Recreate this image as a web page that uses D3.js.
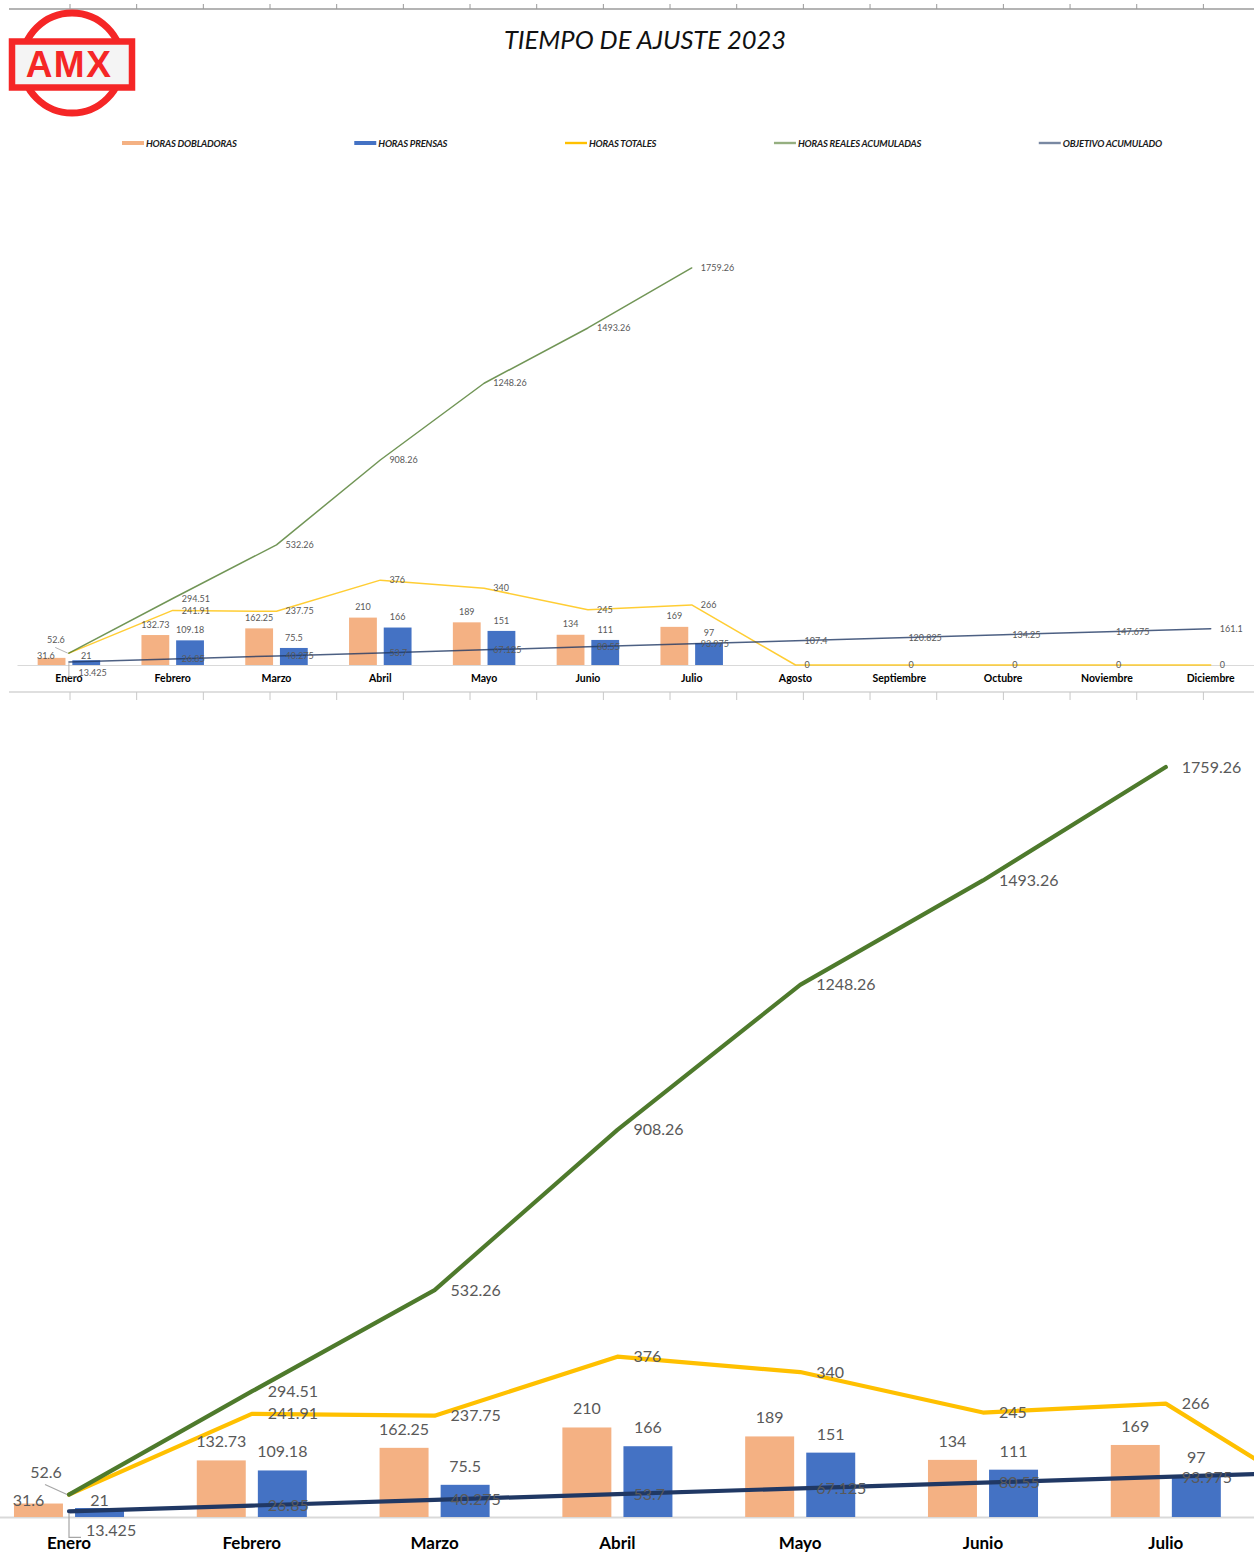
<!DOCTYPE html>
<html>
<head>
<meta charset="utf-8">
<script src="https://cdn.jsdelivr.net/npm/d3@7"></script>
<style>
  body { margin: 0; background: #fff; }
  svg { display: block; font-family: Lato, "Open Sans", sans-serif; }
</style>
</head>
<body>
<svg id="chart" width="1254" height="1562"></svg>
<script>
// data
var months = ['Enero', 'Febrero', 'Marzo', 'Abril', 'Mayo', 'Junio', 'Julio',
              'Agosto', 'Septiembre', 'Octubre', 'Noviembre', 'Diciembre'];
var horasDobladoras = [31.6, 132.73, 162.25, 210, 189, 134, 169];
var horasPrensas = [21, 109.18, 75.5, 166, 151, 111, 97];
var horasTotales = [52.6, 241.91, 237.75, 376, 340, 245, 266, 0, 0, 0, 0, 0];
var horasRealesAcumuladas = [52.6, 294.51, 532.26, 908.26, 1248.26, 1493.26, 1759.26];
var objetivoAcumulado = [13.425, 26.85, 40.275, 53.7, 67.125, 80.55, 93.975,
                         107.4, 120.825, 134.25, 147.675, 161.1];
var seriesNames = ['HORAS DOBLADORAS', 'HORAS PRENSAS', 'HORAS TOTALES',
                   'HORAS REALES ACUMULADAS', 'OBJETIVO ACUMULADO'];

var colors = ['#F4B183', '#4472C4', '#FFC000', '#4E7A2C', '#203864'];
var labelGray = '#595959';
var pageW = 1254;

var svg = d3.select('#chart');

// sheet column borders (top and under first chart)
var colEdges = d3.range(70, pageW, 66.67);
svg.append('line').attr('x1', 9).attr('x2', pageW).attr('y1', 9).attr('y2', 9)
  .attr('stroke', '#b4b4b4').attr('stroke-width', 2);
svg.selectAll('.colTop').data(colEdges).join('line')
  .attr('x1', d => d).attr('x2', d => d).attr('y1', 4).attr('y2', 9)
  .attr('stroke', '#9a9a9a');
svg.append('line').attr('x1', 9).attr('x2', pageW).attr('y1', 692).attr('y2', 692)
  .attr('stroke', '#d4d4d4').attr('stroke-width', 1.5);
svg.selectAll('.colBot').data(colEdges).join('line')
  .attr('x1', d => d).attr('x2', d => d).attr('y1', 692).attr('y2', 700)
  .attr('stroke', '#c8c8c8');

// logo
var logo = svg.append('g');
logo.append('circle').attr('cx', 72).attr('cy', 63).attr('r', 50)
  .attr('fill', '#fff').attr('stroke', '#F52626').attr('stroke-width', 7);
logo.append('rect').attr('x', 12).attr('y', 41.5).attr('width', 120).attr('height', 46)
  .attr('fill', '#f4f4f4').attr('stroke', '#F52626').attr('stroke-width', 6.5);
logo.append('text').attr('x', 69).attr('y', 77).attr('text-anchor', 'middle')
  .attr('font-family', '"Liberation Sans", Arial, sans-serif')
  .attr('font-weight', 'bold').attr('font-size', 37).attr('letter-spacing', 1.5)
  .attr('fill', '#F52626').text('AMX');

// title
svg.append('text').attr('x', 645).attr('y', 49).attr('text-anchor', 'middle')
  .attr('font-size', 25.5).attr('font-style', 'italic')
  .attr('fill', '#111').text('TIEMPO DE AJUSTE 2023');

// legend
var legend = svg.append('g');
var items = legend.selectAll('g').data(seriesNames).join('g');
items.append('text').attr('y', 146.5).attr('font-size', 9.5).attr('font-weight', 'bold')
  .attr('font-style', 'italic').attr('letter-spacing', -0.2).attr('fill', '#1a1a1a')
  .text(d => d);
var widths = [];
items.select('text').each(function() { widths.push(this.getComputedTextLength()); });
var sw = 22;
var total = d3.sum(widths) + seriesNames.length * (sw + 2);
var gap = (1040 - total) / (seriesNames.length - 1);
var lx = 122;
items.each(function(d, i) {
  var it = d3.select(this);
  it.attr('transform', 'translate(' + lx + ',0)');
  it.insert('line', 'text').attr('x1', 0).attr('x2', sw).attr('y1', 143).attr('y2', 143)
    .attr('stroke', colors[i]).attr('stroke-width', i < 2 ? 4 : 2.4)
    .attr('stroke-opacity', i < 3 ? 1 : 0.6);
  it.select('text').attr('x', sw + 2);
  lx += sw + 2 + widths[i] + gap;
});

function drawChart(g, o) {
  var k = o.k;
  var x = d3.scaleBand().domain(months).range(o.xRange).padding(0);
  var bw = x.bandwidth();
  var x1 = d3.scaleBand().domain(['dob', 'pre'])
    .range([0.199 * bw, 0.801 * bw]).paddingInner(0.198);
  var y = d3.scaleLinear().domain([0, 2000]).range([o.base, o.base - 2000 * o.ppu]);
  var cx = function(i) { return x(months[i]) + bw / 2; };
  // the zoomed copy is cropped by the page: only label what can be seen
  var visible = function(px) { return px < pageW - 10; };

  var axis = g.append('g').attr('transform', 'translate(0,' + o.base + ')')
    .call(d3.axisBottom(x).tickSize(0).tickPadding(o.tickPad)
      .tickValues(months.filter(m => visible(x(m) + bw / 2 + 30 * k))));
  axis.select('.domain').attr('stroke', '#d9d9d9').attr('stroke-width', o.axisW);
  axis.selectAll('text').attr('font-size', o.catFont).attr('font-weight', 'bold')
    .attr('fill', '#000').attr('font-family', 'Lato, sans-serif');

  var barData = [];
  horasDobladoras.forEach(function(v, i) { barData.push({ key: 'dob', i: i, v: v }); });
  horasPrensas.forEach(function(v, i) { barData.push({ key: 'pre', i: i, v: v }); });

  g.selectAll('rect.bar').data(barData).join('rect').attr('class', 'bar')
    .attr('x', d => x(months[d.i]) + x1(d.key))
    .attr('width', x1.bandwidth())
    .attr('y', d => y(d.v))
    .attr('height', d => y(0) - y(d.v))
    .attr('fill', d => d.key == 'dob' ? colors[0] : colors[1]);

  var lineSeries = [
    { values: horasTotales, color: colors[2], first: 'skip' },
    { values: horasRealesAcumuladas, color: colors[3], first: 'upLeft' },
    { values: objetivoAcumulado, color: colors[4], first: 'downRight' }
  ];
  var line = d3.line().x(d => cx(d.i)).y(d => y(d.v));
  lineSeries.forEach(function(s) {
    s.pts = s.values.map(function(v, i) { return { i: i, v: v }; });
    g.append('path').datum(s.pts).attr('d', line).attr('fill', 'none')
      .attr('stroke', s.color).attr('stroke-width', o.lineW)
      .attr('stroke-opacity', o.lineOp)
      .attr('stroke-linejoin', 'round').attr('stroke-linecap', 'round');
  });

  // labels
  var lab = g.append('g').attr('font-size', o.valFont).attr('fill', labelGray);
  lab.selectAll('text.bl').data(barData).join('text').attr('class', 'bl')
    .attr('x', function(d) {
      var c = x(months[d.i]) + x1(d.key) + x1.bandwidth() / 2;
      // the short first-month labels sit low, the orange one nudged left
      return (d.i == 0 && d.key == 'dob') ? c - 10 * k : c;
    })
    .attr('y', function(d) {
      var h = y(0) - y(d.v);
      return h < 20 * k ? o.base - 11 * k : y(d.v) - 13 * k;
    })
    .attr('text-anchor', 'middle')
    .text(d => String(d.v));

  lineSeries.forEach(function(s) {
    s.pts.forEach(function(p) {
      var px = cx(p.i), py = y(p.v);
      if (!visible(px)) return;
      if (p.i == 0 && s.first == 'skip') return;
      if (p.i == 0 && s.first == 'upLeft') {
        lab.append('path')
          .attr('d', 'M' + (px - 24 * k) + ',' + (py - 10 * k) + 'L' + (px - 2 * k) + ',' + py)
          .attr('stroke', '#a6a6a6').attr('stroke-width', 1.2 * Math.max(k, 0.7)).attr('fill', 'none');
        lab.append('text').attr('x', px - 23 * k).attr('y', py - 17 * k)
          .attr('text-anchor', 'middle').text(String(p.v));
        return;
      }
      if (p.i == 0 && s.first == 'downRight') {
        lab.append('path')
          .attr('d', 'M' + px + ',' + (py + 2 * k) + 'V' + (py + 26 * k) + 'H' + (px + 12 * k))
          .attr('stroke', '#a6a6a6').attr('stroke-width', 1.2 * Math.max(k, 0.7)).attr('fill', 'none');
        lab.append('text').attr('x', px + 17 * k).attr('y', py + 25 * k)
          .text(String(p.v));
        return;
      }
      lab.append('text').attr('x', px + 16 * k).attr('y', py)
        .attr('dy', '0.35em').text(String(p.v));
    });
  });
}

// overview chart (full year)
drawChart(svg.append('g'), {
  k: 0.568, xRange: [17, 17 + 12 * 103.8], base: 665, ppu: 0.2257,
  tickPad: 10, catFont: 10.5, valFont: 9, lineW: 1.5, lineOp: 0.8, axisW: 1.2
});

// zoomed chart (same data, cropped by the page)
drawChart(svg.append('g'), {
  k: 1, xRange: [-22.4, -22.4 + 12 * 182.8], base: 1517, ppu: 0.4263,
  tickPad: 20, catFont: 17, valFont: 16, lineW: 4.2, lineOp: 1, axisW: 2
});
</script>
</body>
</html>
